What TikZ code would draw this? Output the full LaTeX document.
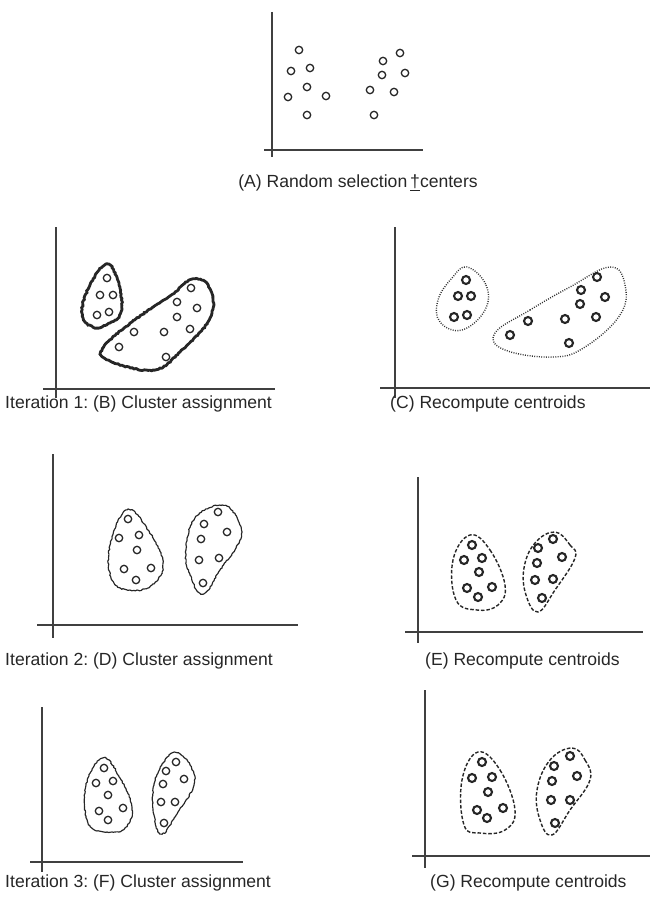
\documentclass[tikz,border=0pt]{standalone}
\usepackage{fontspec}
\setmainfont{Liberation Sans}
\usetikzlibrary{decorations.pathmorphing}
\frenchspacing

\tikzset{
  axis/.style={draw=black!75,line width=1.4pt},
  pt/.style={circle,draw=black!85,line width=1.1pt,inner sep=0pt,minimum size=6.3pt},
  ptdark/.style={pt,line width=1.8pt,minimum size=6.8pt},
  caption/.style={font=\fontsize{15}{17}\selectfont,text=black!85,inner sep=0pt},
  rough/.style={decorate,decoration={random steps,segment length=1.5pt,amplitude=0.5pt}},
  blobthick/.style={draw=black!85,line width=2.4pt,rough},
  blobdot/.style={draw=black!80,line width=1.2pt,dash pattern=on 0.8pt off 1.2pt},
  blobthin/.style={draw=black!85,line width=1pt,rough},
  blobdash/.style={draw=black!85,line width=1.2pt,dash pattern=on 3pt off 1.6pt}
}

\begin{document}
\begin{tikzpicture}[x=0.03cm,y=-0.03cm]
  \useasboundingbox (0,0) rectangle (652,901);

  % (A) random selection
  \draw[axis] (272,12) -- (272,157);
  \draw[axis] (264,150) -- (423,150);
  \foreach \p in {(299,50),(291,71),(310,68),(307,87),(288,97),(326,96),(307,115),
                  (400,53),(383,61),(382,75),(405,73),(370,90),(394,92),(374,115)}
    \node[pt] at \p {};
  \node(capA)[caption] at (358,183) {(A) Random selection\,\underline{†}centers};

  % (B) iteration 1 assignment
  \draw[axis] (56,227) -- (56,398);
  \draw[axis] (43,389) -- (275,389);
  \draw[blobthick] plot[smooth cycle,tension=0.7] coordinates
    {(107,264) (119,285) (121,312) (110,323) (93,327) (82,313) (90,285)};
  \draw[blobthick] plot[smooth cycle,tension=0.7] coordinates
    {(103,348) (132,322) (170,296) (193,279) (210,289) (210,318) (180,352) (153,370) (110,361)};
  \foreach \p in {(107,278),(100,295),(113,295),(97,315),(109,312),
                  (191,288),(177,302),(197,308),(177,317),(190,329),(134,332),(164,332),(119,347),(166,357)}
    \node[pt] at \p {};
  \node(capB)[caption,anchor=west] at (5,404) {Iteration 1: (B) Cluster assignment};

  % (C) recompute centroids
  \draw[axis] (395,227) -- (395,398);
  \draw[axis] (380,388) -- (650,388);
  \draw[blobdot] plot[smooth cycle,tension=0.7] coordinates
    {(467,267) (486,285) (485,310) (462,330) (440,322) (438,300) (452,278)};
  \draw[blobdot] plot[smooth cycle,tension=0.7] coordinates
    {(495,333) (530,310) (570,287) (610,267) (625,285) (620,315) (585,347) (553,357) (505,350)};
  \foreach \p in {(466,280),(458,296),(471,296),(454,317),(467,315),
                  (597,277),(581,290),(605,297),(580,304),(596,317),(565,319),(528,321),(510,335),(569,343)}
    \node[ptdark] at \p {};
  \node(capC)[caption,anchor=west] at (390,404) {(C) Recompute centroids};

  % (D) iteration 2 assignment
  \draw[axis] (53,454) -- (53,638);
  \draw[axis] (37,625) -- (298,625);
  \draw[blobthin] plot[smooth cycle,tension=0.7] coordinates
    {(127,510) (148,530) (163,563) (152,585) (130,590) (112,580) (110,545)};
  \draw[blobthin] plot[smooth cycle,tension=0.7] coordinates
    {(222,505) (238,520) (240,540) (220,570) (203,594) (190,575) (186,550) (195,518)};
  \foreach \p in {(128,519),(119,538),(139,535),(137,550),(124,569),(151,568),(136,580),
                  (218,512),(204,524),(227,532),(201,539),(199,560),(219,558),(203,583)}
    \node[pt] at \p {};
  \node(capD)[caption,anchor=west] at (5,661) {Iteration 2: (D) Cluster assignment};

  % (E) recompute centroids
  \draw[axis] (418,477) -- (418,643);
  \draw[axis] (405,632) -- (643,632);
  \draw[blobdash] plot[smooth cycle,tension=0.7] coordinates
    {(470,535) (490,550) (505,585) (498,605) (477,610) (456,600) (453,560)};
  \draw[blobdash] plot[smooth cycle,tension=0.7] coordinates
    {(555,532) (570,545) (575,558) (555,590) (538,612) (526,595) (524,568) (535,543)};
  \foreach \p in {(472,545),(464,560),(482,558),(479,572),(467,588),(492,587),(478,597),
                  (553,539),(538,548),(562,557),(537,563),(535,580),(553,579),(542,598)}
    \node[ptdark] at \p {};
  \node(capE)[caption,anchor=west] at (425,661) {(E) Recompute centroids};

  % (F) iteration 3 assignment
  \draw[axis] (42,707) -- (42,872);
  \draw[axis] (30,862) -- (243,862);
  \draw[blobthin] plot[smooth cycle,tension=0.7] coordinates
    {(103,758) (120,778) (132,808) (125,828) (107,832) (88,823) (86,785)};
  \draw[blobthin] plot[smooth cycle,tension=0.7] coordinates
    {(177,753) (190,765) (194,785) (178,812) (162,834) (154,815) (154,785) (165,760)};
  \foreach \p in {(104,768),(96,783),(113,781),(108,795),(99,811),(123,808),(108,820),
                  (176,762),(166,771),(184,779),(163,784),(161,802),(175,802),(164,823)}
    \node[pt] at \p {};
  \node(capF)[caption,anchor=west] at (5,883) {Iteration 3: (F) Cluster assignment};

  % (G) recompute centroids
  \draw[axis] (425,690) -- (425,868);
  \draw[axis] (412,856) -- (650,856);
  \draw[blobdash] plot[smooth cycle,tension=0.7] coordinates
    {(478,752) (500,770) (515,810) (505,830) (480,833) (464,825) (462,780)};
  \draw[blobdash] plot[smooth cycle,tension=0.7] coordinates
    {(572,748) (585,760) (590,780) (570,810) (552,835) (540,820) (537,790) (550,760)};
  \foreach \p in {(482,762),(472,778),(492,777),(488,792),(477,810),(503,808),(487,818),
                  (570,756),(554,766),(577,776),(552,781),(551,800),(570,800),(555,823)}
    \node[ptdark] at \p {};
  \node(capG)[caption,anchor=west] at (430,883) {(G) Recompute centroids};
\end{tikzpicture}
\end{document}
